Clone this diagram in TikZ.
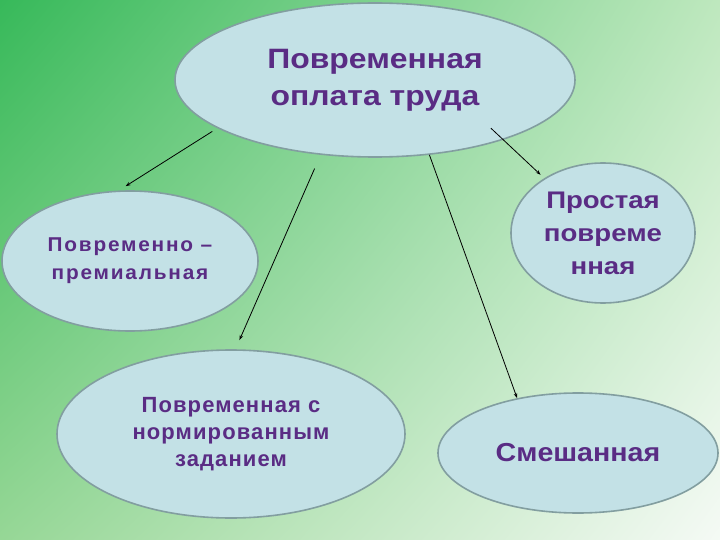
\documentclass[tikz,border=0pt]{standalone}
\usepackage{fontspec}
\setmainfont{Liberation Sans}
\usepackage{xcolor}
\usepackage{tikz}
\usetikzlibrary{shapes.geometric}
\usetikzlibrary{shadings}
\usetikzlibrary{arrows.meta}

\definecolor{ovalfill}{RGB}{195,225,230}
\definecolor{ovalline}{RGB}{130,158,160}
\definecolor{txtpurple}{RGB}{90,44,132}
\definecolor{bgul}{RGB}{55,185,90}
\definecolor{bgur}{RGB}{190,232,190}
\definecolor{bgll}{RGB}{150,215,150}
\definecolor{bglr}{RGB}{245,250,245}

\begin{document}
\begin{tikzpicture}[
  x=1pt,y=-1pt,
  oval/.style={ellipse,draw=ovalline,line width=1.6pt,fill=ovalfill,
    inner sep=0pt,align=center,text=txtpurple,font=\bfseries},
  arr/.style={-{Stealth[length=5pt,width=3.5pt]},line width=0.8pt}
]
  % background
  \shade[upper left=bgul,upper right=bgur,lower left=bgll,lower right=bglr]
    (0,0) rectangle (720,540);
  \useasboundingbox (0,0) rectangle (720,540);

  \node[oval,minimum width=400pt,minimum height=154pt,
    font=\bfseries\fontsize{28}{37}\selectfont\addfontfeature{FakeStretch=1.14}] (pw) at (375,80)
    {Повременная\\оплата труда};
  \node[oval,minimum width=256pt,minimum height=140pt,
    font=\bfseries\fontsize{20}{28}\selectfont\addfontfeature{LetterSpace=9,FakeStretch=1.04}] (prem) at (130,261)
    {Повременно –\\премиальная};
  \node[oval,minimum width=184pt,minimum height=140pt,
    font=\bfseries\fontsize{24}{33}\selectfont\addfontfeature{FakeStretch=1.15}] (prost) at (603,233)
    {Простая\\повреме\\нная};
  \node[oval,minimum width=348pt,minimum height=168pt,
    font=\bfseries\fontsize{22}{27}\selectfont\addfontfeature{LetterSpace=5}] (norm) at (231,434)
    {Повременная с\\нормированным\\заданием};
  \node[oval,minimum width=280pt,minimum height=120pt,
    font=\bfseries\fontsize{26}{30}\selectfont\addfontfeature{FakeStretch=1.1}] (smesh) at (578,453)
    {Смешанная};

  \draw[arr,shorten <=6pt,shorten >=8pt] (pw.197) -- (prem.99);
  \draw[arr,shorten <=15pt,shorten >=10pt] (pw.234) -- (norm.87);
  \draw[arr] (pw.306) -- (smesh.138);
  \draw[arr,shorten <=-17pt,shorten >=5pt] (pw.335) -- (prost.137);
\end{tikzpicture}
\end{document}
